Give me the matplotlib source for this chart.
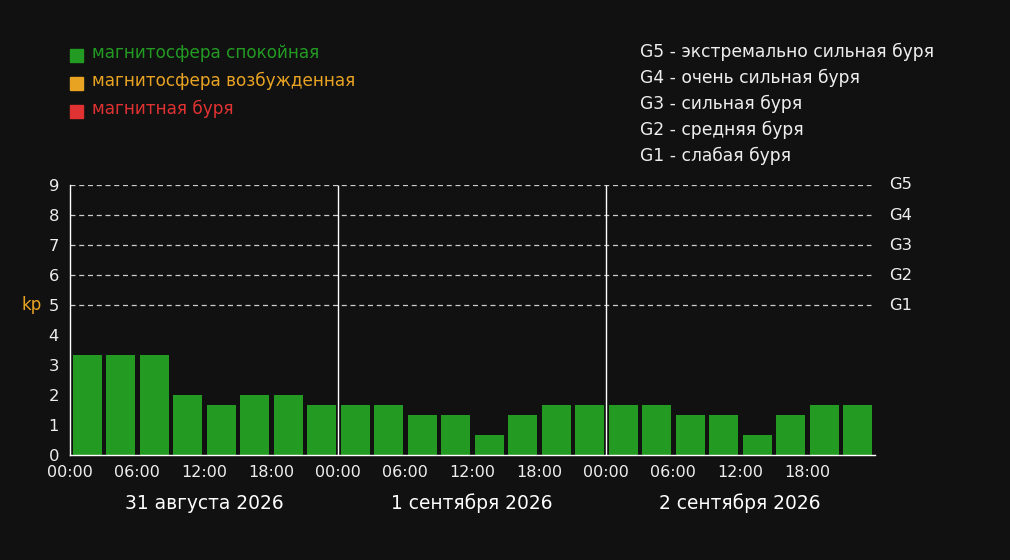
import numpy as np
import matplotlib.pyplot as plt
from matplotlib.patches import Rectangle

plt.rcParams['font.family'] = ['DejaVu Sans']

# Kp index, 3-hour intervals over three days
kp_values = [3.33, 3.33, 3.33, 2.0, 1.67, 2.0, 2.0, 1.67,
             1.67, 1.67, 1.33, 1.33, 0.67, 1.33, 1.67, 1.67,
             1.67, 1.67, 1.33, 1.33, 0.67, 1.33, 1.67, 1.67]
day_labels = ["31 августа 2026", "1 сентября 2026", "2 сентября 2026"]
hour_labels = ["00:00", "06:00", "12:00", "18:00"]
g_levels = [5, 6, 7, 8, 9]
g_names = ["G1", "G2", "G3", "G4", "G5"]
g_desc = ["G5 - экстремально сильная буря", "G4 - очень сильная буря",
          "G3 - сильная буря", "G2 - средняя буря", "G1 - слабая буря"]
legend_items = ["магнитосфера спокойная", "магнитосфера возбужденная", "магнитная буря"]

bg = "#111111"
green = "#239b23"
orange = "#e8a323"
red = "#e03232"
legend_colors = [green, orange, red]

fig = plt.figure(figsize=(10.1, 5.6), dpi=100, facecolor=bg)
ax = fig.add_axes([70 / 1010, 105 / 560, 805 / 1010, 270 / 560])
ax.set_facecolor(bg)

n = len(kp_values)
x = np.arange(n) + 0.52
colors = [green if v < 4 else (orange if v < 5 else red) for v in kp_values]
ax.bar(x, kp_values, width=0.87, color=colors, zorder=2)

ax.set_xlim(0, 24.03)
ax.set_ylim(0, 9)

# dashed storm level lines
ax.hlines(g_levels, 0, 23.9, colors="#cccccc", linestyles=(0, (4, 3)), lw=0.9, zorder=1)
for lvl, name in zip(g_levels, g_names):
    ax.text(24.45, lvl, name, color="#eeeeee", fontsize=11.8, va="center", ha="left")

# day separators
for d in [8, 16]:
    ax.vlines(d, 0, 9, colors="white", lw=1, zorder=3)

for s in ["top", "right"]:
    ax.spines[s].set_visible(False)
for s in ["left", "bottom"]:
    ax.spines[s].set_color("white")
    ax.spines[s].set_linewidth(1)

ax.set_yticks(range(10))
ax.tick_params(axis="y", length=0, pad=8, labelsize=11.8, labelcolor="#eeeeee")
xt = np.arange(0, 24, 2)
ax.set_xticks(xt)
ax.set_xticklabels(hour_labels * 3)
ax.tick_params(axis="x", length=0, pad=7, labelsize=11.5, labelcolor="#eeeeee")

ax.text(-1.14, 5, "kp", color=orange, fontsize=12, ha="center", va="center")

for i, lab in enumerate(day_labels):
    ax.text(i * 8 + 4, -1.62, lab, color="white", fontsize=13.4, ha="center", va="center")

# legend at top left
for i, (lab, c) in enumerate(zip(legend_items, legend_colors)):
    yc = 55.5 + i * 28
    fig.patches.append(Rectangle((70 / 1010, 1 - (yc + 6.5) / 560), 13 / 1010, 13 / 560,
                                 transform=fig.transFigure, color=c, figure=fig))
    fig.text(92 / 1010, 1 - (53 + i * 28) / 560, lab, color=c, fontsize=12.2,
             va="center", ha="left")

for i, lab in enumerate(g_desc):
    y = 1 - (52 + i * 26) / 560
    fig.text(640 / 1010, y, lab, color="#eeeeee", fontsize=12.3, va="center", ha="left")

fig.savefig("out.png", facecolor=bg)
